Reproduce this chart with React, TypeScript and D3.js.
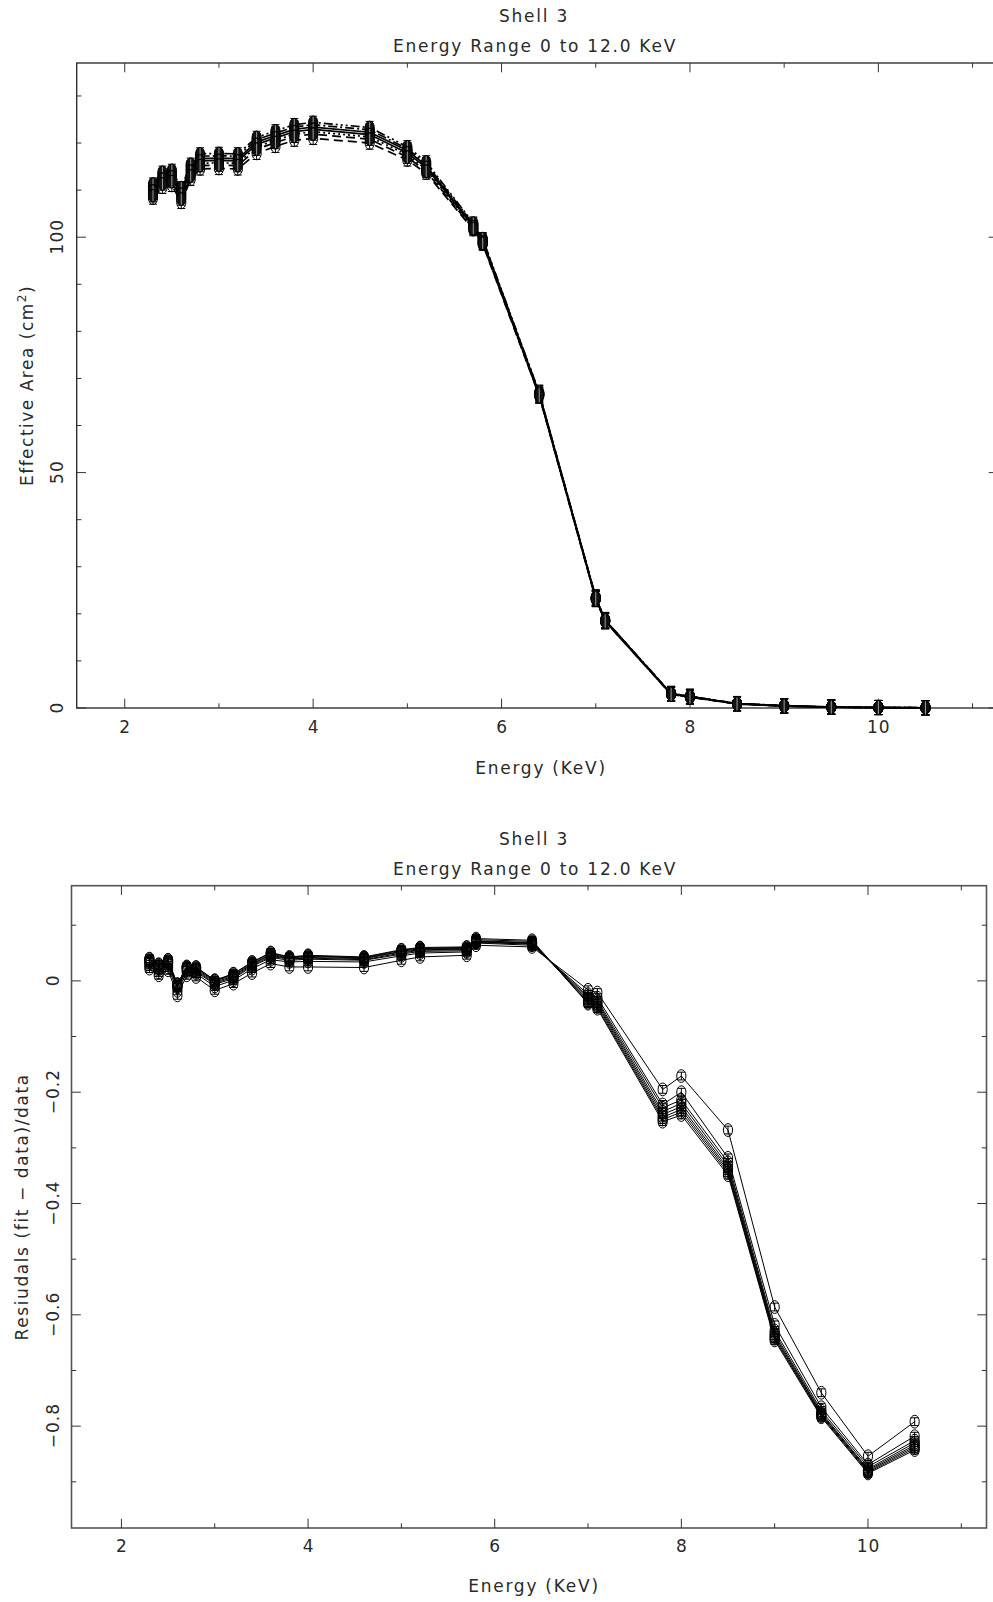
import React from "react";
import * as d3 from "d3";

// ---------- data ----------
const energies = [2.3, 2.4, 2.5, 2.6, 2.7, 2.8, 3.0, 3.2, 3.4, 3.6, 3.8, 4.0, 4.6, 5.0, 5.2, 5.7, 5.8, 6.4, 7.0, 7.1, 7.8, 8.0, 8.5, 9.0, 9.5, 10.0, 10.5];

const area1 = [110.3, 112.8, 113.3, 109.6, 114.5, 116.7, 116.8, 116.7, 120.2, 121.6, 122.9, 123.4, 122.3, 118.4, 115.2, 102.5, 99.3, 66.8, 23.4, 18.6, 3.0, 2.4, 0.9, 0.45, 0.2, 0.1, 0.05];
const area2 = [108.3, 110.6, 111.0, 107.4, 112.3, 114.5, 114.6, 114.5, 117.8, 119.3, 120.6, 121.0, 120.0, 116.4, 113.6, 101.6, 98.5, 66.3, 23.1, 18.4, 2.9, 2.3, 0.85, 0.4, 0.18, 0.09, 0.04];
const area3 = [110.8, 113.3, 113.8, 110.0, 115.0, 117.2, 117.3, 117.2, 120.7, 122.1, 123.4, 123.9, 122.8, 118.8, 115.6, 102.8, 99.5, 66.9, 23.5, 18.7, 3.1, 2.5, 0.95, 0.5, 0.22, 0.11, 0.06];
const area4 = [109.3, 111.8, 112.3, 108.6, 113.5, 115.7, 115.8, 115.7, 119.2, 120.6, 121.9, 122.4, 121.3, 117.5, 114.4, 102.0, 98.8, 66.5, 23.2, 18.5, 3.0, 2.4, 0.9, 0.45, 0.2, 0.1, 0.05];
const area5 = [111.3, 113.8, 114.2, 110.5, 115.5, 117.7, 117.8, 117.7, 121.2, 122.6, 123.9, 124.4, 123.3, 119.2, 116.0, 103.0, 99.7, 67.0, 23.5, 18.7, 3.1, 2.5, 0.95, 0.5, 0.22, 0.11, 0.06];
const area6 = [109.8, 112.3, 112.8, 109.1, 114.0, 116.2, 116.3, 116.2, 119.7, 121.1, 122.4, 122.9, 121.8, 117.9, 114.8, 102.2, 99.0, 66.6, 23.3, 18.5, 3.0, 2.4, 0.9, 0.45, 0.2, 0.1, 0.05];
const area7 = [108.8, 111.3, 111.8, 108.1, 113.0, 115.2, 115.3, 115.2, 118.7, 120.1, 121.4, 121.9, 120.8, 117.0, 114.0, 101.8, 98.7, 66.4, 23.2, 18.4, 2.9, 2.3, 0.85, 0.4, 0.18, 0.09, 0.04];
const areaErr = [1.3, 1.3, 1.3, 1.3, 1.3, 1.3, 1.3, 1.3, 1.3, 1.3, 1.3, 1.3, 1.3, 1.3, 1.3, 1.3, 1.3, 1.6, 1.6, 1.6, 1.5, 1.5, 1.5, 1.5, 1.5, 1.5, 1.5];

const resid0 = [0.022, 0.010, 0.019, -0.026, 0.010, 0.007, -0.017, -0.005, 0.014, 0.031, 0.025, 0.025, 0.024, 0.037, 0.043, 0.046, 0.064, 0.061, -0.016, -0.021, -0.195, -0.171, -0.268, -0.586, -0.740, -0.854, -0.792];
const resid1 = [0.026, 0.015, 0.024, -0.018, 0.016, 0.013, -0.010, 0.001, 0.022, 0.038, 0.034, 0.035, 0.034, 0.045, 0.050, 0.052, 0.068, 0.064, -0.024, -0.030, -0.222, -0.200, -0.318, -0.618, -0.766, -0.869, -0.818];
const resid2 = [0.030, 0.020, 0.028, -0.012, 0.019, 0.016, -0.006, 0.004, 0.026, 0.042, 0.037, 0.039, 0.037, 0.048, 0.053, 0.054, 0.069, 0.066, -0.028, -0.035, -0.228, -0.214, -0.326, -0.628, -0.772, -0.873, -0.826];
const resid3 = [0.033, 0.023, 0.031, -0.010, 0.021, 0.018, -0.004, 0.006, 0.028, 0.044, 0.039, 0.041, 0.038, 0.050, 0.055, 0.056, 0.070, 0.067, -0.031, -0.038, -0.235, -0.220, -0.332, -0.633, -0.776, -0.877, -0.830];
const resid4 = [0.035, 0.025, 0.033, -0.008, 0.023, 0.020, -0.002, 0.008, 0.030, 0.046, 0.040, 0.042, 0.040, 0.052, 0.056, 0.057, 0.071, 0.068, -0.034, -0.041, -0.240, -0.226, -0.337, -0.637, -0.778, -0.879, -0.834];
const resid5 = [0.037, 0.027, 0.035, -0.007, 0.024, 0.022, 0.000, 0.010, 0.031, 0.048, 0.041, 0.044, 0.041, 0.053, 0.058, 0.058, 0.072, 0.069, -0.036, -0.044, -0.245, -0.231, -0.341, -0.640, -0.780, -0.881, -0.837];
const resid6 = [0.039, 0.029, 0.037, -0.006, 0.025, 0.024, 0.001, 0.012, 0.033, 0.050, 0.042, 0.045, 0.042, 0.055, 0.059, 0.060, 0.074, 0.071, -0.039, -0.047, -0.249, -0.236, -0.345, -0.643, -0.782, -0.883, -0.840];
const resid7 = [0.040, 0.030, 0.038, -0.006, 0.026, 0.025, 0.001, 0.013, 0.034, 0.051, 0.043, 0.046, 0.043, 0.056, 0.060, 0.061, 0.076, 0.073, -0.041, -0.050, -0.253, -0.241, -0.349, -0.646, -0.784, -0.885, -0.843];
const residErr = 0.007;

const xTicks = [2, 4, 6, 8, 10];
const xMinor = [3, 5, 7, 9, 11];
const areaTicks = [0, 50, 100];
const areaMinor = [10, 20, 30, 40, 60, 70, 80, 90, 110, 120, 130];
const residTicks = [0, -0.2, -0.4, -0.6, -0.8];
const residMinor = [0.1, -0.1, -0.3, -0.5, -0.7, -0.9];

const areaSeries = [area1, area2, area3, area4, area5, area6, area7];
const areaDash = ["", "9 5", "9 3 2 3", "2 3", "9 3 2 3 2 3 2 3", "", "9 5"];
const areaFilled = [true, false, true, true, true, true, true];
const residSeries = [resid0, resid1, resid2, resid3, resid4, resid5, resid6, resid7];

// ---------- styling ----------
const FONT = "'DejaVu Sans', 'Liberation Sans', sans-serif";
const TXT = "#2a2a2a";
const AX = "#333";
const LS = 1.75; // letter spacing for labels

const fmt = (v: number) => (v < 0 ? "\u2212" + String(Math.abs(v)) : String(v));

type PanelProps = {
  x: d3.ScaleLinear<number, number>;
  y: d3.ScaleLinear<number, number>;
  yTicks: number[];
  yMinor: number[];
  series: number[][];
  dashes: string[];
  filled: boolean[];
  errs: number[];
  lineWidth: number;
  title1Y: number;
  title2Y: number;
  xLabX: number;
  xLabY: number;
  xTickLabY: number;
  yTickLabX: number;
  yLabX: number;
  yLabel: React.ReactNode;
  yLabLS: number;
  axisColor: string;
  axisWidth: number;
};

function Panel(p: PanelProps) {
  const [x0, x1] = p.x.range();
  const [y0, y1] = p.y.range(); // y0 bottom, y1 top
  const major = 9.3;
  const minor = 4.7;
  const line = d3
    .line<number>()
    .x((_, i) => p.x(energies[i]))
    .y((d) => p.y(d));
  const midY = (y0 + y1) / 2;
  return (
    <g>
      <text x={534} y={p.title1Y} textAnchor="middle" fontSize={17} letterSpacing={LS} fill={TXT} fontFamily={FONT}>Shell 3</text>
      <text x={535} y={p.title2Y} textAnchor="middle" fontSize={17} letterSpacing={LS} fill={TXT} fontFamily={FONT}>Energy Range 0 to 12.0 KeV</text>
      {/* frame */}
      <rect x={x0} y={y1} width={x1 - x0} height={y0 - y1} fill="none" stroke={p.axisColor} strokeWidth={p.axisWidth} />
      {/* x ticks */}
      {xTicks.map((t) => (
        <g key={"xt" + t}>
          <line x1={p.x(t)} x2={p.x(t)} y1={y0} y2={y0 - major} stroke={AX} strokeWidth={1} />
          <line x1={p.x(t)} x2={p.x(t)} y1={y1} y2={y1 + major} stroke={AX} strokeWidth={1} />
          <text x={p.x(t) + 0.5} y={p.xTickLabY} textAnchor="middle" fontSize={17} letterSpacing={1} fill={TXT} fontFamily={FONT}>{t}</text>
        </g>
      ))}
      {xMinor.map((t) => (
        <g key={"xm" + t}>
          <line x1={p.x(t)} x2={p.x(t)} y1={y0} y2={y0 - minor} stroke={AX} strokeWidth={1} />
          <line x1={p.x(t)} x2={p.x(t)} y1={y1} y2={y1 + minor} stroke={AX} strokeWidth={1} />
        </g>
      ))}
      {/* y ticks */}
      {p.yTicks.map((t) => (
        <g key={"yt" + t}>
          <line x1={x0} x2={x0 + major} y1={p.y(t)} y2={p.y(t)} stroke={AX} strokeWidth={1} />
          <line x1={x1} x2={x1 - major} y1={p.y(t)} y2={p.y(t)} stroke={AX} strokeWidth={1} />
          <text transform={`translate(${p.yTickLabX},${p.y(t) - 0.5}) rotate(-90)`} textAnchor="middle" fontSize={17} letterSpacing={1} fill={TXT} fontFamily={FONT}>{fmt(t)}</text>
        </g>
      ))}
      {p.yMinor.map((t) => (
        <g key={"ym" + t}>
          <line x1={x0} x2={x0 + minor} y1={p.y(t)} y2={p.y(t)} stroke={AX} strokeWidth={1} />
          <line x1={x1} x2={x1 - minor} y1={p.y(t)} y2={p.y(t)} stroke={AX} strokeWidth={1} />
        </g>
      ))}
      <text x={p.xLabX} y={p.xLabY} textAnchor="middle" fontSize={17} letterSpacing={LS} fill={TXT} fontFamily={FONT}>Energy (KeV)</text>
      <text transform={`translate(${p.yLabX},${midY}) rotate(-90)`} textAnchor="middle" fontSize={17} letterSpacing={p.yLabLS} fill={TXT} fontFamily={FONT}>{p.yLabel}</text>
      {/* data */}
      {p.series.map((s, si) => (
        <g key={"s" + si}>
          <path d={line(s) || ""} fill="none" stroke="#000" strokeWidth={p.lineWidth} strokeDasharray={p.dashes[si] || undefined} />
          {s.map((v, i) => {
            const px = p.x(energies[i]);
            const py = p.y(v);
            const e = p.errs[i];
            const ya = p.y(v + e);
            const yb = p.y(v - e);
            const f = p.filled[si];
            return (
              <g key={i}>
                <ellipse cx={px} cy={py} rx={4.6} ry={6.4} fill={f ? "#111" : "none"} stroke="#000" strokeWidth={1} />
                <line x1={px} x2={px} y1={ya} y2={yb} stroke={f ? "#fff" : "#000"} strokeWidth={f ? 0.6 : 1} />
                <line x1={px - 4} x2={px + 4} y1={ya} y2={ya} stroke="#000" strokeWidth={1} />
                <line x1={px - 4} x2={px + 4} y1={yb} y2={yb} stroke="#000" strokeWidth={1} />
              </g>
            );
          })}
        </g>
      ))}
    </g>
  );
}

export default function App() {
  const xTop = d3.scaleLinear().domain([1.49, 11.27]).range([76.7, 998]);
  const yTop = d3.scaleLinear().domain([0, 137]).range([708, 63]);
  const xBot = d3.scaleLinear().domain([1.465, 11.27]).range([71.5, 986.5]);
  const yBot = d3.scaleLinear().domain([-0.983, 0.171]).range([1528, 885.7]);
  const residErrs = energies.map(() => residErr);
  const noFill = residSeries.map(() => false);
  return (
    <svg width={993} height={1602} style={{ position: "absolute", left: 0, top: 0, background: "#fff" }}>
      <rect x={0} y={0} width={993} height={1602} fill="#fff" />
      <Panel
        x={xTop}
        y={yTop}
        yTicks={areaTicks}
        yMinor={areaMinor}
        series={areaSeries}
        dashes={areaDash}
        filled={areaFilled}
        errs={areaErr}
        lineWidth={1.7}
        title1Y={22}
        title2Y={52}
        xLabX={541}
        xLabY={774}
        xTickLabY={733}
        yTickLabX={63}
        yLabX={33}
        yLabel={<>Effective Area (cm<tspan dy={-7} fontSize={12}>2</tspan><tspan dy={7}>)</tspan></>}
        yLabLS={1.5}
        axisColor="#222"
        axisWidth={1.3}
      />
      <Panel
        x={xBot}
        y={yBot}
        yTicks={residTicks}
        yMinor={residMinor}
        series={residSeries}
        dashes={[]}
        filled={noFill}
        errs={residErrs}
        lineWidth={1}
        title1Y={845}
        title2Y={875}
        xLabX={534}
        xLabY={1592}
        xTickLabY={1552}
        yTickLabX={59}
        yLabX={28}
        yLabel={"Resiudals (fit \u2212 data)/data"}
        yLabLS={1.6}
        axisColor="#555"
        axisWidth={1.6}
      />
    </svg>
  );
}
